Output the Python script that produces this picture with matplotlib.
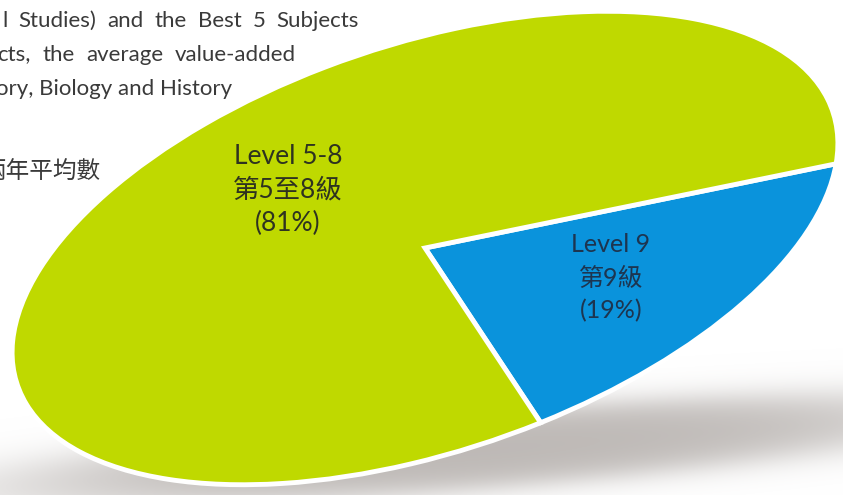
import numpy as np
import matplotlib.pyplot as plt
from matplotlib.transforms import Affine2D

plt.rcParams['font.family'] = ['Lato', 'Noto Sans CJK TC']

# data
levels_en = ['Level 9', 'Level 5-8']
levels_zh = ['第9級', '第5至8級']
shares = [19, 81]
colors = ['#0a93dc', '#bfd900']
text_colors = ['#1d3550', '#2e3320']

intro_lines = ['l Studies) and the Best 5 Subjects',
               'cts, the average value-added',
               'ory, Biology and History']
intro_zh = '兩年平均數'

W, H = 843, 495
fig = plt.figure(figsize=(W / 100, H / 100), dpi=100, facecolor='w')
ax = fig.add_axes([0, 0, 1, 1])
ax.set_xlim(0, W)
ax.set_ylim(0, H)

# soft grey shadow under the disc
yy, xx = np.mgrid[0:H, 0:W] + 0.5
cx, cy, tilt = 480, H - 450, np.deg2rad(4.5)
dx, dy = xx - cx, yy - cy
u = dx * np.cos(tilt) + dy * np.sin(tilt)
v = -dx * np.sin(tilt) + dy * np.cos(tilt)
r = np.sqrt((u / 440) ** 2 + (v / 38) ** 2)
shadow = np.zeros((H, W, 4))
shadow[..., :3] = (0.73, 0.71, 0.70)
shadow[..., 3] = 0.95 / (1 + np.exp((r - 1) / 0.2))
ax.imshow(shadow, extent=(0, W, 0, H), origin='lower', zorder=0)

# tilted pie: unit pie squashed and rotated into an ellipse
wedges, _ = ax.pie(shares, colors=colors, startangle=-82.75,
                   wedgeprops=dict(edgecolor='white', linewidth=3.5))
tilt_tr = Affine2D().scale(430, 204).rotate_deg(18.5).translate(425, H - 248)
for w in wedges:
    w.set_transform(tilt_tr + ax.transData)
    w.set_zorder(2)

label_pos = [(611, 245, 18), (288, 157, 19)]
for (lx, ly, fs), en, zh, val, tc in zip(label_pos, levels_en, levels_zh, shares, text_colors):
    for k, s in enumerate([en, zh, '(%d%%)' % val]):
        ax.text(lx, H - ly - 33 * k, s, ha='center', va='center',
                fontsize=fs, color=tc, zorder=3)

ax.set_xlim(0, W)
ax.set_ylim(0, H)
ax.set_aspect('auto')
ax.axis('off')

# clipped, justified paragraph text in the corner
renderer = fig.canvas.get_renderer()
line_x = [2, -3, -4]
line_w = [357, 299, None]
for k, s in enumerate(intro_lines):
    y = H - 27 - 34 * k
    if line_w[k] is None:
        ax.text(line_x[k], y, s, ha='left', va='baseline', fontsize=16,
                color='#3a3a3a', zorder=3)
        continue
    words = s.split()
    texts = [ax.text(0, y, wd, ha='left', va='baseline', fontsize=16,
                     color='#3a3a3a', zorder=3) for wd in words]
    widths = [t.get_window_extent(renderer).width for t in texts]
    gap = (line_w[k] - sum(widths)) / (len(words) - 1)
    x = line_x[k]
    for t, wd in zip(texts, widths):
        t.set_x(x)
        x += wd + gap
ax.text(-18, H - 172, intro_zh, ha='left', va='center', fontsize=17,
        color='#3a3a3a', zorder=3)

fig.savefig('out.png', dpi=100, facecolor='w')
